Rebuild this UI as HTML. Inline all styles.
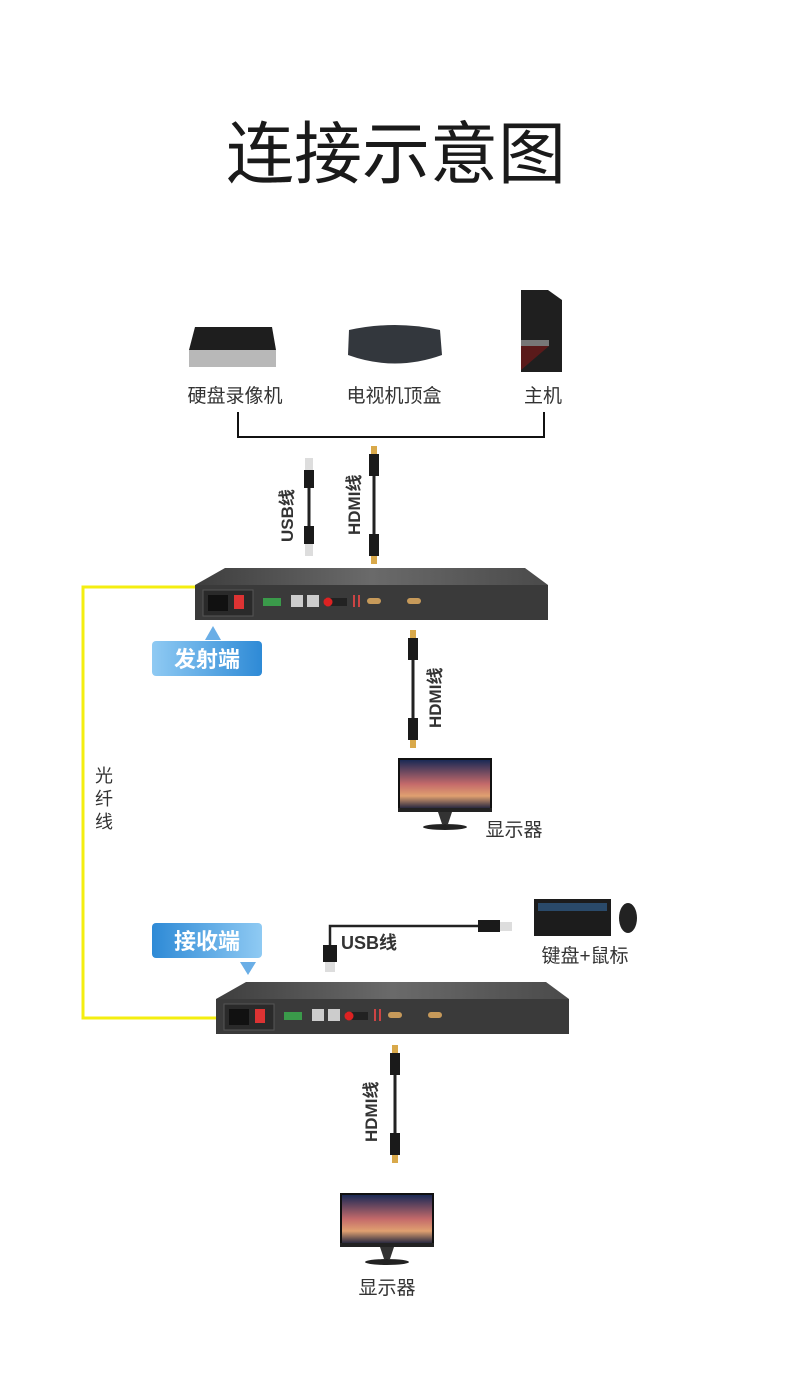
<!DOCTYPE html>
<html><head><meta charset="utf-8"><style>
html,body{margin:0;padding:0;background:#fff;}
svg{display:block;}
text{font-family:"Liberation Sans","Noto Sans CJK SC",sans-serif;}
</style></head><body>
<svg width="792" height="1398" viewBox="0 0 792 1398" xmlns="http://www.w3.org/2000/svg">
<defs>
<linearGradient id="tx" x1="0" x2="1"><stop offset="0" stop-color="#8fcaf3"/><stop offset="1" stop-color="#2e8ad6"/></linearGradient>
<linearGradient id="rx" x1="0" x2="1"><stop offset="0" stop-color="#2e8ad6"/><stop offset="1" stop-color="#8fcaf3"/></linearGradient>
<linearGradient id="top" x1="0" x2="1"><stop offset="0" stop-color="#3e3e3e"/><stop offset="0.5" stop-color="#6a6a6a"/><stop offset="1" stop-color="#4a4a4a"/></linearGradient>
<linearGradient id="scr" x1="0" y1="0" x2="0" y2="1"><stop offset="0" stop-color="#1b2a55"/><stop offset="0.5" stop-color="#c46a6a"/><stop offset="0.75" stop-color="#e0a070"/><stop offset="1" stop-color="#2a2a40"/></linearGradient>
<g id="dev">
 <path d="M30 0 H330 L353 17 H0 Z" fill="url(#top)"/>
 <rect x="0" y="17" width="353" height="35" fill="#3a3a3a"/>
 <rect x="8" y="22" width="50" height="26" fill="#2a2a2a" stroke="#555"/>
 <rect x="13" y="27" width="20" height="16" fill="#111"/>
 <rect x="39" y="27" width="10" height="14" fill="#d33"/>
 <rect x="68" y="30" width="18" height="8" fill="#3a9a4a"/>
 <rect x="96" y="27" width="12" height="12" fill="#ccc"/>
 <rect x="112" y="27" width="12" height="12" fill="#ccc"/>
 <rect x="130" y="30" width="22" height="8" fill="#222"/>
 <circle cx="133" cy="34" r="4.5" fill="#d22"/>
 <rect x="158" y="27" width="2" height="12" fill="#c44"/>
 <rect x="163" y="27" width="2" height="12" fill="#c44"/>
 <rect x="172" y="30" width="14" height="6" rx="3" fill="#c79a5a"/>
 <rect x="212" y="30" width="14" height="6" rx="3" fill="#c79a5a"/>
</g>
<g id="mon">
 <rect x="0" y="0" width="94" height="54" fill="#111"/>
 <rect x="2" y="2" width="90" height="48" fill="url(#scr)"/>
 <rect x="0" y="50" width="94" height="4" fill="#222"/>
 <path d="M40 54 L44 66 H50 L54 54 Z" fill="#333"/>
 <ellipse cx="47" cy="69" rx="22" ry="3" fill="#222"/>
</g>
<g id="hdmiv">
 <rect x="-3" y="0" width="6" height="8" fill="#d9a94a"/>
 <rect x="-5" y="8" width="10" height="22" fill="#1a1a1a"/>
 <rect x="-1.5" y="30" width="3" height="58" fill="#222"/>
 <rect x="-5" y="88" width="10" height="22" fill="#1a1a1a"/>
 <rect x="-3" y="110" width="6" height="8" fill="#d9a94a"/>
</g>
</defs>

<text x="396" y="178" font-size="68" text-anchor="middle" fill="#1a1a1a" font-family="Noto Sans CJK SC, sans-serif">连接示意图</text>

<!-- top devices -->
<path d="M195 327 H272 L276 350 H189 Z" fill="#1e1e1e"/>
<rect x="189" y="350" width="87" height="17" fill="#b8b8b8"/>
<path d="M349 330 Q395 320 440 330 L442 355 Q395 372 348 355 Z" fill="#33373d"/>
<path d="M521 290 H548 L562 300 V372 H521 Z" fill="#1f1f1f"/>
<rect x="521" y="340" width="28" height="6" fill="#777"/>
<path d="M521 346 L549 346 L521 370 Z" fill="#5a1a1a"/>
<text x="235" y="402" font-size="19" text-anchor="middle" fill="#333">硬盘录像机</text>
<text x="394" y="402" font-size="19" text-anchor="middle" fill="#333">电视机顶盒</text>
<text x="543" y="402" font-size="19" text-anchor="middle" fill="#333">主机</text>
<path d="M238 412 V437 H544 V412" fill="none" stroke="#111" stroke-width="2"/>

<!-- cables to tx -->
<rect x="305" y="458" width="8" height="12" fill="#ddd"/>
<rect x="304" y="470" width="10" height="18" fill="#1a1a1a"/>
<rect x="307.5" y="488" width="3" height="38" fill="#222"/>
<rect x="304" y="526" width="10" height="18" fill="#1a1a1a"/>
<rect x="305" y="544" width="8" height="12" fill="#ddd"/>
<text transform="translate(293,542) rotate(-90)" font-size="17" font-weight="bold" fill="#333">USB线</text>
<use href="#hdmiv" x="374" y="446"/>
<text transform="translate(360,535) rotate(-90)" font-size="17" font-weight="bold" fill="#333">HDMI线</text>

<!-- transmitter -->
<use href="#dev" x="195" y="568"/>
<path d="M205 640 L213 626 L221 640 Z" fill="#6aaee6"/>
<rect x="152" y="641" width="110" height="35" rx="4" fill="url(#tx)"/>
<text x="207" y="667" font-size="22" font-weight="bold" text-anchor="middle" fill="#fff">发射端</text>

<use href="#hdmiv" x="413" y="630"/>
<text transform="translate(441,728) rotate(-90)" font-size="17" font-weight="bold" fill="#333">HDMI线</text>
<use href="#mon" x="398" y="758"/>
<text x="514" y="836" font-size="19" text-anchor="middle" fill="#333">显示器</text>

<!-- fiber -->
<path d="M195 587 H83 V1018 H216" fill="none" stroke="#f4ee10" stroke-width="3"/>
<text x="104" y="782" font-size="18" text-anchor="middle" fill="#333">光</text>
<text x="104" y="805" font-size="18" text-anchor="middle" fill="#333">纤</text>
<text x="104" y="828" font-size="18" text-anchor="middle" fill="#333">线</text>

<!-- receiver label -->
<rect x="152" y="923" width="110" height="35" rx="4" fill="url(#rx)"/>
<text x="207" y="949" font-size="22" font-weight="bold" text-anchor="middle" fill="#fff">接收端</text>
<path d="M240 962 L256 962 L248 975 Z" fill="#6aaee6"/>

<!-- usb to keyboard -->
<path d="M330 945 V926 H478" fill="none" stroke="#222" stroke-width="2.5"/>
<rect x="323" y="945" width="14" height="17" fill="#1a1a1a"/>
<rect x="325" y="962" width="10" height="10" fill="#ddd"/>
<rect x="478" y="920" width="22" height="12" fill="#1a1a1a"/>
<rect x="500" y="922" width="12" height="9" fill="#ddd"/>
<text x="341" y="949" font-size="18" font-weight="bold" fill="#333">USB线</text>
<rect x="534" y="899" width="77" height="37" fill="#1c1c1c"/>
<rect x="538" y="903" width="69" height="8" fill="#2a4a6a"/>
<ellipse cx="628" cy="918" rx="9" ry="15" fill="#222"/>
<text x="585" y="962" font-size="19" text-anchor="middle" fill="#333">键盘+鼠标</text>

<!-- receiver -->
<use href="#dev" x="216" y="982"/>

<use href="#hdmiv" x="395" y="1045"/>
<text transform="translate(377,1142) rotate(-90)" font-size="17" font-weight="bold" fill="#333">HDMI线</text>
<use href="#mon" x="340" y="1193"/>
<text x="387" y="1294" font-size="19" text-anchor="middle" fill="#333">显示器</text>
</svg>
</body></html>
